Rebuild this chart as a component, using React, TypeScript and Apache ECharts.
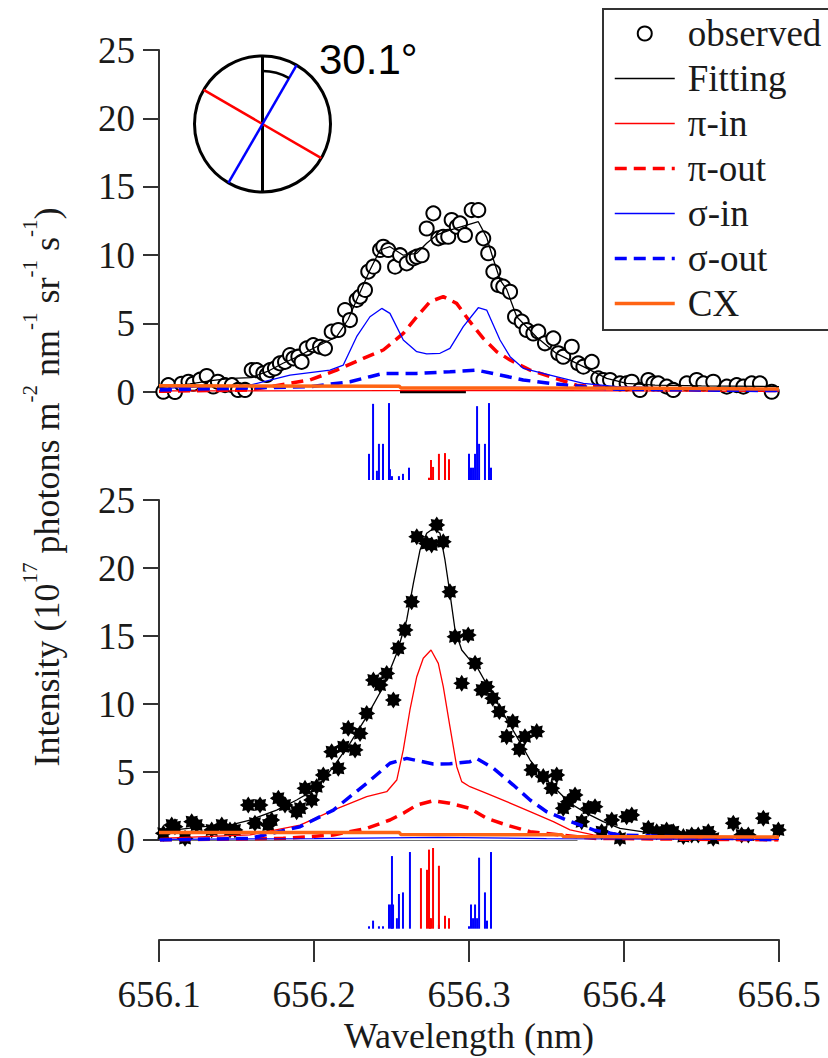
import React, { useEffect, useRef } from 'react';
import * as echarts from 'echarts';

// ---------- data ----------
const xTickLabels = ['656.1', '656.2', '656.3', '656.4', '656.5'];
const yTickLabels = ['0', '5', '10', '15', '20', '25'];
const legendNames = ['observed', 'Fitting', 'π-in', 'π-out', 'σ-in', 'σ-out', 'CX'];

// Top panel (30.1°)
const topObserved: number[][] = [
  [656.1028, 0.02], [656.106, 0.5], [656.1103, 0.0], [656.1146, 0.6], [656.119, 0.75], [656.122, 0.6],
  [656.1265, 0.9], [656.1308, 1.17], [656.135, 0.4], [656.138, 0.75], [656.1426, 0.5], [656.147, 0.5],
  [656.151, 0.15], [656.1555, 0.15], [656.1598, 1.6], [656.163, 1.6], [656.1673, 1.37], [656.1695, 1.24],
  [656.1716, 1.6], [656.1748, 1.73], [656.178, 2.09], [656.1813, 2.2], [656.1845, 2.7], [656.1867, 2.46],
  [656.1899, 2.58], [656.192, 2.2], [656.1953, 3.19], [656.1995, 3.43], [656.2039, 3.31], [656.2071, 3.19],
  [656.2114, 4.41], [656.2157, 4.53], [656.22, 5.99], [656.2232, 5.26], [656.2275, 6.73], [656.2297, 6.97],
  [656.2329, 7.46], [656.235, 8.8], [656.2383, 9.16], [656.2426, 10.38], [656.2447, 10.62], [656.2479, 10.38],
  [656.2523, 9.16], [656.2555, 10.0], [656.2598, 9.4], [656.2641, 9.77], [656.2663, 9.89], [656.2695, 10.0],
  [656.2727, 11.95], [656.277, 13.06], [656.2802, 11.23], [656.2834, 11.35], [656.2866, 11.35], [656.2888, 12.57],
  [656.2921, 12.08], [656.2942, 12.33], [656.2974, 11.48], [656.3017, 13.3], [656.306, 13.3], [656.3092, 11.23],
  [656.3124, 10.14], [656.3157, 8.8], [656.3189, 7.82], [656.3221, 7.7], [656.3265, 7.33], [656.3297, 5.5],
  [656.334, 5.14], [656.3372, 4.53], [656.3415, 4.28], [656.3447, 4.41], [656.349, 3.56], [656.3544, 3.92],
  [656.3576, 2.83], [656.3608, 2.58], [656.3663, 3.31], [656.3705, 2.09], [656.3738, 1.85], [656.3792, 2.2],
  [656.3834, 1.0], [656.3867, 0.88], [656.391, 0.88], [656.3974, 0.63], [656.4017, 0.63], [656.405, 0.75],
  [656.4103, 0.15], [656.4157, 0.88], [656.419, 0.63], [656.4221, 0.63], [656.4276, 0.39], [656.4318, 0.15],
  [656.4405, 0.63], [656.4469, 0.88], [656.4512, 0.63], [656.4576, 0.75], [656.4663, 0.39], [656.4727, 0.5],
  [656.477, 0.39], [656.4824, 0.63], [656.4877, 0.63], [656.4953, 0.02], [656.5006, 0.5],
];
const topFitting: number[][] = [
  [656.1, 0.3], [656.12, 0.6], [656.135, 0.85], [656.147, 1.0], [656.159, 1.05], [656.17, 1.5], [656.18, 2.1],
  [656.19, 2.6], [656.1974, 3.07], [656.2146, 4.04], [656.222, 5.3], [656.2275, 6.73], [656.2361, 8.92],
  [656.2426, 10.38], [656.249, 10.62], [656.2576, 10.0], [656.2663, 10.14], [656.2727, 10.87], [656.2792, 11.48],
  [656.2877, 11.84], [656.2985, 12.2], [656.306, 12.45], [656.3114, 11.3], [656.3157, 9.7], [656.32, 8.2],
  [656.3243, 7.5], [656.3308, 5.5], [656.3437, 4.0], [656.3566, 2.8], [656.3738, 1.85], [656.3888, 1.0],
  [656.4017, 0.63], [656.42, 0.5], [656.45, 0.45], [656.5, 0.4],
];
const topPiIn: number[][] = [[656.1, 0.08], [656.25, 0.1], [656.3, 0.12], [656.4, 0.08], [656.5, 0.05]];
const topPiOut: number[][] = [
  [656.1, 0.05], [656.1587, 0.15], [656.1974, 0.88], [656.2146, 1.6], [656.2318, 2.46], [656.2447, 3.07],
  [656.2576, 4.28], [656.2663, 5.5], [656.2748, 6.6], [656.2834, 6.97], [656.292, 6.48], [656.3006, 5.14],
  [656.3092, 3.92], [656.3179, 2.95], [656.3265, 2.34], [656.3394, 1.6], [656.3523, 1.12], [656.3695, 0.5],
  [656.3953, 0.27], [656.5, 0.1],
];
const topSigmaIn: number[][] = [
  [656.1006, 0.27], [656.1587, 0.5], [656.1845, 1.24], [656.2103, 1.6], [656.2189, 1.97], [656.2275, 4.04],
  [656.2361, 5.5], [656.2437, 6.11], [656.249, 5.75], [656.2576, 3.8], [656.2663, 2.95], [656.2727, 2.78],
  [656.2813, 2.83], [656.2877, 3.19], [656.2963, 4.78], [656.306, 6.16], [656.3114, 5.99], [656.32, 3.8],
  [656.3265, 2.58], [656.335, 1.73], [656.3523, 1.24], [656.3738, 0.63], [656.3953, 0.39], [656.5, 0.1],
];
const topSigmaOut: number[][] = [
  [656.1006, 0.15], [656.1974, 0.39], [656.2232, 0.75], [656.2361, 1.12], [656.2447, 1.36], [656.2663, 1.36],
  [656.2877, 1.48], [656.305, 1.6], [656.32, 1.24], [656.335, 0.88], [656.3523, 0.63], [656.3738, 0.39],
  [656.3953, 0.2], [656.5, 0.1],
];
const topCX: number[][] = [[656.1, 0.45], [656.255, 0.42], [656.256, 0.3], [656.42, 0.28], [656.5, 0.22]];
const topBaseline: number[][] = [[656.2555, 0.0], [656.298, 0.0]];

// Top stick spectrum (relative heights)
const topSticksSigma: number[][] = [
  [656.2355, 0.34], [656.2381, 0.99], [656.2406, 0.12], [656.2419, 0.47], [656.2445, 0.47], [656.2484, 1.0],
  [656.249, 0.14], [656.2503, 0.05], [656.2548, 0.05], [656.2574, 0.08], [656.2613, 0.16],
  [656.3, 0.34], [656.3013, 0.16], [656.3026, 0.16], [656.3039, 0.34], [656.3052, 0.96], [656.3065, 0.47],
  [656.3103, 0.47], [656.3129, 1.0], [656.3142, 0.16],
];
const topSticksPi: number[][] = [
  [656.2742, 0.03], [656.2755, 0.26], [656.2768, 0.17], [656.2806, 0.34], [656.2845, 0.35], [656.2871, 0.27],
];

// Bottom panel
const botObserved: number[][] = [
  [656.1028, 0.49], [656.1082, 1.1], [656.1103, 0.98], [656.1168, 0.12], [656.1211, 1.35], [656.1243, 1.1],
  [656.134, 0.74], [656.1405, 1.1], [656.1458, 0.74], [656.149, 0.74], [656.1576, 2.57], [656.1619, 1.23],
  [656.1652, 2.57], [656.1705, 1.1], [656.1727, 1.47], [656.177, 3.07], [656.1813, 2.57], [656.1888, 2.08],
  [656.191, 2.33], [656.1942, 3.8], [656.1985, 2.94], [656.2017, 3.92], [656.206, 4.78], [656.2114, 6.49],
  [656.2157, 5.27], [656.2189, 6.86], [656.2221, 8.21], [656.2265, 6.62], [656.2297, 7.84], [656.234, 9.31],
  [656.2383, 11.76], [656.2426, 11.4], [656.2469, 12.25], [656.2512, 10.29], [656.2544, 14.1], [656.2587, 15.44],
  [656.263, 17.52], [656.2663, 22.3], [656.2727, 21.8], [656.2759, 21.7], [656.2792, 23.16], [656.2834, 21.93],
  [656.2877, 18.25], [656.291, 14.95], [656.2953, 11.52], [656.2995, 15.07], [656.3039, 12.99], [656.3082, 11.03],
  [656.3114, 11.27], [656.3153, 10.42], [656.3196, 9.44], [656.3243, 7.6], [656.3282, 8.7], [656.3325, 6.67],
  [656.3361, 7.6], [656.3405, 5.15], [656.3437, 7.97], [656.3479, 4.66], [656.3534, 3.8], [656.3566, 4.78],
  [656.3608, 2.33], [656.3641, 2.82], [656.3684, 3.31], [656.3727, 1.35], [656.377, 2.33], [656.3813, 2.45],
  [656.3856, 0.61], [656.3921, 1.47], [656.3974, 0.12], [656.4017, 1.71], [656.405, 1.84], [656.4103, -0.12],
  [656.4157, 0.86], [656.4211, 0.61], [656.4275, 0.74], [656.4318, 0.61], [656.4383, 0.25], [656.4437, 0.37],
  [656.4479, 0.37], [656.4544, 0.61], [656.4576, 0.12], [656.4705, 1.23], [656.4759, 0.37], [656.4802, 0.37],
  [656.4824, -0.25], [656.4899, 1.6], [656.4996, 0.74],
];
const botFitting: number[][] = [
  [656.1006, 0.61], [656.1286, 0.98], [656.1458, 1.1], [656.1587, 1.47], [656.1759, 2.2], [656.1888, 2.94],
  [656.2017, 3.8], [656.2125, 5.39], [656.2232, 7.11], [656.234, 9.07], [656.2447, 11.27], [656.2534, 13.73],
  [656.2598, 16.18], [656.2641, 18.87], [656.2684, 21.32], [656.2727, 22.55], [656.277, 22.9], [656.2813, 22.55],
  [656.2845, 20.59], [656.2877, 18.14], [656.291, 15.44], [656.2953, 13.97], [656.3006, 13.24], [656.305, 12.75],
  [656.3135, 11.03], [656.3221, 9.31], [656.3308, 7.6], [656.3394, 5.88], [656.3479, 4.66], [656.3566, 3.68],
  [656.3652, 2.7], [656.3759, 1.96], [656.3866, 1.35], [656.3974, 0.86], [656.4189, 0.49], [656.4405, 0.29],
  [656.4996, 0.2],
];
const botPiIn: number[][] = [
  [656.1006, 0.12], [656.1587, 0.37], [656.191, 1.1], [656.2125, 2.2], [656.234, 3.19], [656.2469, 3.55],
  [656.2534, 4.41], [656.2576, 6.62], [656.2619, 9.56], [656.2663, 12.01], [656.2705, 13.36], [656.2755, 13.97],
  [656.2802, 12.99], [656.2834, 11.27], [656.2877, 8.33], [656.2921, 5.39], [656.2953, 4.29], [656.3006, 3.92],
  [656.3114, 3.43], [656.3243, 2.82], [656.3394, 2.08], [656.3544, 1.35], [656.3652, 0.74], [656.3802, 0.37],
  [656.3974, 0.12], [656.4996, 0.0],
];
const botPiOut: number[][] = [
  [656.1006, 0.0], [656.1802, 0.12], [656.2125, 0.37], [656.234, 0.86], [656.249, 1.47], [656.2576, 1.96],
  [656.2663, 2.57], [656.277, 2.89], [656.2877, 2.7], [656.3006, 2.33], [656.3114, 1.59], [656.3243, 1.1],
  [656.3394, 0.61], [656.3587, 0.37], [656.3802, 0.12], [656.4996, 0.0],
];
const botSigmaIn: number[][] = [[656.1, 0.05], [656.2, 0.1], [656.28, 0.2], [656.35, 0.1], [656.5, 0.05]];
const botSigmaOut: number[][] = [
  [656.1006, 0.0], [656.1587, 0.12], [656.191, 0.98], [656.2125, 2.2], [656.234, 4.17], [656.249, 5.64],
  [656.2598, 6.0], [656.277, 5.59], [656.2877, 5.6], [656.3006, 5.76], [656.305, 6.0], [656.3157, 5.27],
  [656.3286, 4.04], [656.3394, 2.94], [656.3501, 2.08], [656.363, 1.47], [656.3802, 0.74], [656.3974, 0.37],
  [656.4996, 0.0],
];
const botCX: number[][] = [[656.1, 0.55], [656.255, 0.55], [656.256, 0.4], [656.36, 0.38], [656.361, 0.25], [656.5, 0.22]];
const botBaseline: number[][] = [[656.1, -0.1], [656.37, -0.1]];

const botSticksSigma: number[][] = [
  [656.2355, 0.03], [656.2381, 0.1], [656.2419, 0.03], [656.2445, 0.03], [656.2484, 0.3], [656.2497, 0.3],
  [656.2503, 0.9], [656.251, 0.3], [656.2535, 0.13], [656.2548, 0.43], [656.2574, 0.45], [656.2619, 0.95],
  [656.2806, 0.05],
  [656.3, 0.03], [656.3013, 0.3], [656.3026, 0.13], [656.3039, 0.3], [656.3052, 0.13], [656.3065, 0.88],
  [656.3103, 0.45], [656.3116, 0.1], [656.3142, 0.95],
];
const botSticksPi: number[][] = [
  [656.269, 0.75], [656.2729, 0.73], [656.2742, 0.98], [656.2748, 0.13], [656.2755, 0.13], [656.2768, 1.0],
  [656.2806, 0.78], [656.2845, 0.16], [656.2871, 0.13],
];

// ---------- styling helpers ----------
const RED = '#ff0000';
const BLUE = '#0000ff';
const ORANGE = '#ff6414';
const SERIF = 'Liberation Serif';
const TXT = '#1a1a1a';

function starSymbol(): string {
  const pts: string[] = [];
  const n = 8;
  for (let i = 0; i < n * 2; i++) {
    const a = (i * Math.PI) / n - Math.PI / 2;
    const r = i % 2 === 0 ? 10 : 6.6;
    pts.push((i === 0 ? 'M' : 'L') + (10 + r * Math.cos(a)).toFixed(2) + ' ' + (10 + r * Math.sin(a)).toFixed(2));
  }
  return 'path://' + pts.join(' ') + ' Z';
}

const stickRender = (params: any, api: any) => {
  const top = api.coord([api.value(0), api.value(1)]);
  const base = api.coord([api.value(0), 0]);
  return {
    type: 'rect',
    shape: { x: top[0] - 1, y: top[1], width: 2, height: base[1] - top[1] },
    style: { fill: api.visual('color') },
  };
};

function lineSeries(name: string | undefined, data: number[][], idx: number, color: string, width: number, dashed: boolean, z = 3) {
  return {
    type: 'line',
    name,
    data,
    xAxisIndex: idx,
    yAxisIndex: idx,
    symbol: 'none',
    showSymbol: false,
    smooth: false,
    silent: true,
    z,
    lineStyle: { color, width, type: dashed ? [12, 7] : 'solid' },
    itemStyle: { color },
  };
}

export default function App() {
  const ref = useRef<HTMLDivElement>(null);
  useEffect(() => {
    if (!ref.current) return;
    const chart = echarts.init(ref.current, null, { renderer: 'svg' });
    const left = 159;
    const width = 620;
    const yAxisCommon = (gridIndex: number) => ({
      type: 'value',
      gridIndex,
      min: 0,
      max: 25,
      interval: 5,
      axisLine: { show: true, lineStyle: { color: '#333', width: 2 } },
      axisTick: { show: true, length: 16, lineStyle: { color: '#333', width: 2 } },
      axisLabel: {
        margin: 24,
        fontFamily: SERIF,
        fontSize: 37,
        color: TXT,
        formatter: (v: number) => yTickLabels[Math.round(v / 5)] ?? '',
      },
      splitLine: { show: false },
    });
    const hiddenX = (gridIndex: number) => ({
      type: 'value', gridIndex, min: 656.1, max: 656.5, show: false, splitLine: { show: false },
    });
    const legendData = legendNames.map((n) =>
      n === 'observed' ? { name: n } : { name: n, itemStyle: { opacity: 0 } }
    );
    const option: any = {
      animation: false,
      backgroundColor: '#fff',
      textStyle: { fontFamily: SERIF },
      grid: [
        { left, width, top: 50, height: 342 },
        { left, width, top: 400, height: 80 },
        { left, width, top: 500, height: 340 },
        { left, width, top: 848, height: 92 },
      ],
      xAxis: [
        hiddenX(0),
        hiddenX(1),
        hiddenX(2),
        {
          type: 'value',
          gridIndex: 3,
          min: 656.1,
          max: 656.5,
          interval: 0.1,
          position: 'bottom',
          axisLine: { show: true, onZero: false, lineStyle: { color: '#333', width: 2 } },
          axisTick: { show: true, length: 22, lineStyle: { color: '#333', width: 2 } },
          axisLabel: {
            margin: 36,
            fontFamily: SERIF,
            fontSize: 37,
            color: TXT,
            formatter: (v: number) => xTickLabels[Math.round((v - 656.1) * 10)] ?? '',
          },
          splitLine: { show: false },
          name: 'Wavelength (nm)',
          nameLocation: 'middle',
          nameGap: 78,
          nameTextStyle: { fontFamily: SERIF, fontSize: 36, color: TXT },
        },
      ],
      yAxis: [
        yAxisCommon(0),
        { type: 'value', gridIndex: 1, min: 0, max: 1.04, show: false, splitLine: { show: false } },
        yAxisCommon(2),
        { type: 'value', gridIndex: 3, min: -0.14, max: 1.0, show: false, splitLine: { show: false } },
      ],
      legend: {
        data: legendData,
        orient: 'vertical',
        left: 603,
        top: 9,
        padding: [6, 20, 8, 10],
        borderColor: '#333',
        borderWidth: 2,
        backgroundColor: '#fff',
        itemWidth: 60,
        itemHeight: 14,
        itemGap: 8,
        selectedMode: false,
        textStyle: { fontFamily: SERIF, fontSize: 37, color: TXT, lineHeight: 36, padding: [0, 0, 0, 8] },
        lineStyle: { width: 'inherit' },
      },
      graphic: [
        {
          type: 'group',
          children: [
            { type: 'circle', shape: { cx: 262.5, cy: 124, r: 68 }, style: { fill: 'none', stroke: '#000', lineWidth: 3 } },
            { type: 'line', shape: { x1: 262.5, y1: 56, x2: 262.5, y2: 192 }, style: { stroke: '#000', lineWidth: 3 } },
            { type: 'line', shape: { x1: 203.7, y1: 89.9, x2: 321.3, y2: 158.1 }, style: { stroke: RED, lineWidth: 2.5 } },
            { type: 'line', shape: { x1: 228.4, y1: 182.8, x2: 296.6, y2: 65.2 }, style: { stroke: BLUE, lineWidth: 2.5 } },
            {
              type: 'arc',
              shape: { cx: 262.5, cy: 124, r: 53, startAngle: -Math.PI / 2, endAngle: -Math.PI / 2 + (30.1 * Math.PI) / 180, clockwise: true },
              style: { stroke: '#000', lineWidth: 2.5, fill: 'none' },
            },
            {
              type: 'text',
              x: 319,
              y: 38,
              style: { text: '30.1°', fontFamily: 'Liberation Sans', fontSize: 42, fill: '#000' },
            },
          ],
        },
        {
          type: 'text',
          x: 42,
          y: 487,
          rotation: Math.PI / 2,
          style: {
            text: '{n|Intensity (10}{s|17}{n| photons m}{s|-2}{n| nm}{s|-1}{n| sr}{s|-1}{n| s}{s|-1}{n|)}',
            align: 'center',
            verticalAlign: 'middle',
            fill: TXT,
            rich: {
              n: { fontFamily: SERIF, fontSize: 36, lineHeight: 46, verticalAlign: 'bottom', fill: TXT },
              s: { fontFamily: SERIF, fontSize: 21, lineHeight: 22, verticalAlign: 'top', fill: TXT },
            },
          },
        },
      ],
      series: [
        // top panel
        {
          type: 'scatter', name: 'observed', data: topObserved, xAxisIndex: 0, yAxisIndex: 0,
          symbol: 'emptyCircle', symbolSize: 14, silent: true, z: 2,
          itemStyle: { color: '#000', borderColor: '#000', borderWidth: 1, opacity: 1 },
        },
        lineSeries('Fitting', topFitting, 0, '#000', 1.3, false),
        lineSeries(undefined, topBaseline, 0, '#000', 3, false),
        lineSeries('π-in', topPiIn, 0, RED, 1.3, false),
        lineSeries('π-out', topPiOut, 0, RED, 3.5, true),
        lineSeries('σ-in', topSigmaIn, 0, BLUE, 1.3, false),
        lineSeries('σ-out', topSigmaOut, 0, BLUE, 3.5, true),
        lineSeries('CX', topCX, 0, ORANGE, 3.5, false, 4),
        // top sticks
        { type: 'custom', name: 'topSticksSigma', data: topSticksSigma, xAxisIndex: 1, yAxisIndex: 1, renderItem: stickRender, itemStyle: { color: BLUE }, silent: true },
        { type: 'custom', name: 'topSticksPi', data: topSticksPi, xAxisIndex: 1, yAxisIndex: 1, renderItem: stickRender, itemStyle: { color: RED }, silent: true },
        // bottom panel
        {
          type: 'scatter', name: 'observed', data: botObserved, xAxisIndex: 2, yAxisIndex: 2,
          symbol: starSymbol(), symbolSize: 17, silent: true, z: 2,
          itemStyle: { color: '#000', opacity: 1 },
        },
        lineSeries('Fitting', botFitting, 2, '#000', 1.3, false),
        lineSeries(undefined, botBaseline, 2, '#444', 2, false),
        lineSeries('π-in', botPiIn, 2, RED, 1.3, false),
        lineSeries('π-out', botPiOut, 2, RED, 3.5, true),
        lineSeries('σ-in', botSigmaIn, 2, BLUE, 1.3, false),
        lineSeries('σ-out', botSigmaOut, 2, BLUE, 3.5, true),
        lineSeries('CX', botCX, 2, ORANGE, 3.5, false, 4),
        // bottom sticks
        { type: 'custom', name: 'botSticksSigma', data: botSticksSigma, xAxisIndex: 3, yAxisIndex: 3, renderItem: stickRender, itemStyle: { color: BLUE }, silent: true },
        { type: 'custom', name: 'botSticksPi', data: botSticksPi, xAxisIndex: 3, yAxisIndex: 3, renderItem: stickRender, itemStyle: { color: RED }, silent: true },
      ],
    };
    chart.setOption(option);
    return () => chart.dispose();
  }, []);
  return <div ref={ref} style={{ position: 'absolute', left: 0, top: 0, width: 828, height: 1058 }} />;
}
